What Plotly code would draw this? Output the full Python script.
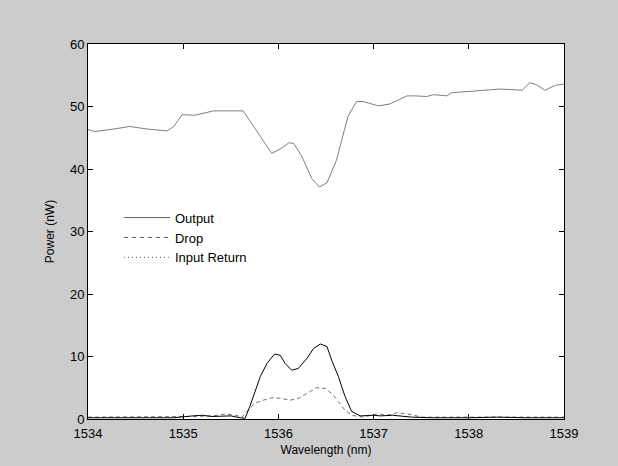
import plotly.graph_objects as go

# Output (top grey curve)
out_wl = [1534.0, 1534.07, 1534.27, 1534.44, 1534.62, 1534.83, 1534.90, 1534.99, 1535.12, 1535.32,
          1535.63, 1535.77, 1535.93, 1536.03, 1536.11, 1536.16, 1536.24, 1536.35, 1536.43, 1536.51,
          1536.61, 1536.73, 1536.82, 1536.89, 1537.05, 1537.17, 1537.35, 1537.43, 1537.56, 1537.63,
          1537.77, 1537.82, 1537.98, 1538.15, 1538.33, 1538.56, 1538.64, 1538.71, 1538.80, 1538.91, 1539.0]
out_pw = [46.3, 46.0, 46.4, 46.8, 46.4, 46.1, 46.8, 48.7, 48.6, 49.3,
          49.3, 46.2, 42.5, 43.3, 44.2, 44.1, 42.2, 38.5, 37.1, 37.8,
          41.4, 48.4, 50.8, 50.8, 50.1, 50.4, 51.7, 51.7, 51.6, 51.9,
          51.7, 52.2, 52.4, 52.5, 52.8, 52.6, 53.8, 53.5, 52.6, 53.4, 53.6]

# Input Return (black curve near the bottom)
ret_wl = [1534.0, 1534.3, 1534.6, 1534.9, 1535.1, 1535.2, 1535.3, 1535.5, 1535.6, 1535.65,
          1535.70, 1535.75, 1535.81, 1535.88, 1535.96, 1536.02, 1536.07, 1536.14, 1536.21, 1536.30,
          1536.37, 1536.44, 1536.51, 1536.56, 1536.63, 1536.70, 1536.77, 1536.86, 1537.0, 1537.07,
          1537.2, 1537.4, 1537.6, 1538.0, 1538.3, 1538.6, 1539.0]
ret_pw = [0.2, 0.2, 0.25, 0.2, 0.5, 0.6, 0.4, 0.5, 0.2, 0.1,
          2.0, 4.1, 6.8, 8.9, 10.4, 10.2, 8.9, 7.8, 8.1, 9.7,
          11.3, 12.0, 11.6, 9.4, 6.8, 3.6, 1.2, 0.5, 0.6, 0.5,
          0.6, 0.3, 0.2, 0.2, 0.3, 0.2, 0.2]

# Drop (dashed curve near the bottom)
drop_wl = [1534.0, 1534.4, 1534.8, 1535.1, 1535.3, 1535.45, 1535.55, 1535.62, 1535.68, 1535.75,
           1535.84, 1535.93, 1536.03, 1536.12, 1536.21, 1536.30, 1536.40, 1536.49, 1536.56, 1536.63,
           1536.70, 1536.77, 1536.89, 1537.03, 1537.14, 1537.25, 1537.4, 1537.5, 1537.8, 1538.2,
           1538.5, 1539.0]
drop_pw = [0.3, 0.3, 0.35, 0.4, 0.5, 0.8, 0.6, 0.3, 1.4, 2.5,
           3.0, 3.4, 3.3, 3.0, 3.3, 4.1, 5.0, 4.9, 4.1, 2.8,
           1.4, 0.6, 0.3, 0.8, 0.6, 1.0, 0.7, 0.3, 0.3, 0.4,
           0.3, 0.3]

series_names = ["Output", "Drop", "Input Return"]
x_ticks = [1534, 1535, 1536, 1537, 1538, 1539]
y_ticks = [0, 10, 20, 30, 40, 50, 60]

FONT = "Liberation Sans, Arial, sans-serif"

fig = go.Figure()
fig.add_trace(go.Scatter(x=out_wl, y=out_pw, mode="lines", showlegend=False,
                         line=dict(color="#808080", width=1)))
fig.add_trace(go.Scatter(x=drop_wl, y=drop_pw, mode="lines", showlegend=False,
                         line=dict(color="#707070", width=1, dash="4px,3px")))
fig.add_trace(go.Scatter(x=ret_wl, y=ret_pw, mode="lines", showlegend=False,
                         line=dict(color="#000000", width=1)))

# legend entries
fig.add_trace(go.Scatter(x=[None], y=[None], mode="lines", name=series_names[0],
                         line=dict(color="#606060", width=1)))
fig.add_trace(go.Scatter(x=[None], y=[None], mode="lines", name=series_names[1],
                         line=dict(color="#606060", width=1, dash="4px,4px")))
fig.add_trace(go.Scatter(x=[None], y=[None], mode="lines", name=series_names[2],
                         line=dict(color="#606060", width=1, dash="1px,3px")))

axis_common = dict(showline=True, linecolor="black", linewidth=1, mirror="ticks",
                   ticks="inside", ticklen=5, tickcolor="black", showgrid=False,
                   zeroline=False, tickfont=dict(family=FONT, size=13, color="black"))

fig.update_layout(
    width=618, height=466,
    margin=dict(l=88, r=54, t=44, b=47),
    paper_bgcolor="#cccccc", plot_bgcolor="white",
    font=dict(family=FONT, size=13, color="black"),
    xaxis=dict(range=[1534, 1539], tickvals=x_ticks, ticktext=[str(v) for v in x_ticks],
               ticklabelstandoff=2,
               title=dict(text="Wavelength (nm)", standoff=6, font=dict(size=12)), **axis_common),
    yaxis=dict(range=[0, 60], tickvals=y_ticks, ticktext=[str(v) for v in y_ticks],
               title=dict(text="Power (nW)", standoff=12, font=dict(size=12)), **axis_common),
    legend=dict(x=0.065, y=0.577, xanchor="left", yanchor="top", bgcolor="rgba(0,0,0,0)",
                font=dict(family=FONT, size=13), itemwidth=46, tracegroupgap=0),
)

fig.write_html("out.html", config={"displayModeBar": False},
               post_script="document.body.style.margin='0px';")
